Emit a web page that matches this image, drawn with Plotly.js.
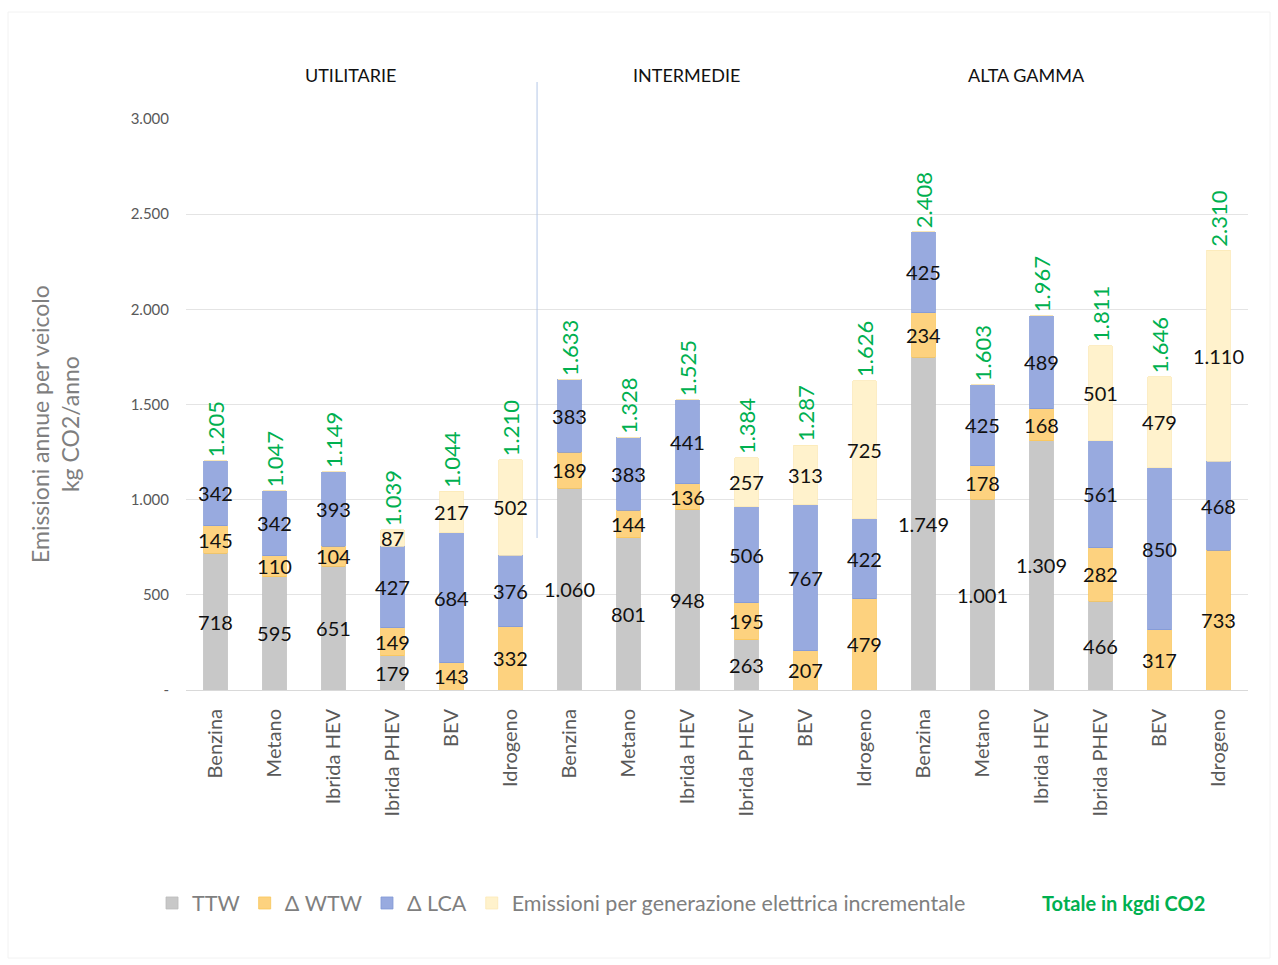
<!DOCTYPE html>
<html>
<head>
<meta charset="utf-8">
<script src="https://cdn.plot.ly/plotly-3.0.1.min.js"></script>
<style>html,body{margin:0;padding:0;background:#fff;}#chart{width:1278px;height:965px;}</style>
</head>
<body>
<div id="chart"></div>
<script>
// ---- data ----
const vehicles = ["Benzina","Metano","Ibrida HEV","Ibrida PHEV","BEV","Idrogeno",
                  "Benzina","Metano","Ibrida HEV","Ibrida PHEV","BEV","Idrogeno",
                  "Benzina","Metano","Ibrida HEV","Ibrida PHEV","BEV","Idrogeno"];
const groups = ["UTILITARIE","INTERMEDIE","ALTA GAMMA"];
const ttw  = [718,595,651,179,0,0,   1060,801,948,263,0,0,   1749,1001,1309,466,0,0];
const wtw  = [145,110,104,149,143,332, 189,144,136,195,207,479, 234,178,168,282,317,733];
const lca  = [342,342,393,427,684,376, 383,383,441,506,767,422, 425,425,489,561,850,468];
const elec = [0,0,0,87,217,502,       0,0,0,257,313,725,       0,0,0,501,479,1110];
const totals = ["1.205","1.047","1.149","1.039","1.044","1.210",
                "1.633","1.328","1.525","1.384","1.287","1.626",
                "2.408","1.603","1.967","1.811","1.646","2.310"];
const yTickVals = [0,500,1000,1500,2000,2500,3000];
const yTickText = ["-","500","1.000","1.500","2.000","2.500","3.000"];
const seriesNames = ["TTW","Δ WTW","Δ LCA","Emissioni per generazione elettrica incrementale"];

// ---- build ----
const FONT = "Lato, 'Open Sans', sans-serif";
const xs = vehicles.map((_, i) => i);
const fmt = v => v > 0 ? String(v).replace(/\B(?=(\d{3})+(?!\d))/g, ".") : "";
const colors = ["#c8c8c8", "#fdd27f", "#98aadf", "#fff2cc"];
const lineColors = ["#bdbdbd", "#f9c659", "#8298d6", "#fbe8b6"];
const seriesData = [ttw, wtw, lca, elec];

const traces = seriesData.map((vals, k) => ({
  type: "bar",
  name: seriesNames[k],
  x: xs,
  y: vals,
  text: vals.map(fmt),
  textposition: "inside",
  insidetextanchor: "middle",
  textangle: 0,
  constraintext: "none",
  textfont: {family: FONT, size: 20, color: "#111"},
  marker: {color: colors[k], line: {color: lineColors[k], width: 0.8}},
  hoverinfo: "skip"
}));

const stackTop = xs.map(i => ttw[i] + wtw[i] + lca[i] + elec[i]);

const annotations = xs.map(i => ({
  x: i, y: stackTop[i], xref: "x", yref: "y",
  text: totals[i], showarrow: false, textangle: -90,
  xanchor: "center", yanchor: "bottom", yshift: 1,
  font: {family: FONT, size: 22, color: "#00b050"}
}));

const groupX = [2.29, 7.98, 13.75];
groups.forEach((g, j) => annotations.push({
  x: groupX[j], y: 1.077, xref: "x", yref: "paper",
  text: g, showarrow: false, xanchor: "center", yanchor: "middle",
  font: {family: FONT, size: 18, color: "#111"}
}));

annotations.push({
  x: (1123 - 186) / (1248 - 186), y: (690 - 903) / (690 - 119),
  xref: "paper", yref: "paper", xanchor: "center", yanchor: "middle",
  text: "<b>Totale in kgdi CO2</b>", showarrow: false,
  font: {family: FONT, size: 20, color: "#00b050"}
});

// y-axis title (placed like the reference, slightly below plot centre)
annotations.push({
  x: (55 - 186) / (1248 - 186), y: (690 - 424) / (690 - 119),
  xref: "paper", yref: "paper", xanchor: "center", yanchor: "middle",
  textangle: -90, showarrow: false,
  text: "Emissioni annue per veicolo<br>kg CO2/anno",
  font: {family: FONT, size: 23, color: "#7f7f7f"}
});

const layout = {
  width: 1278, height: 965,
  margin: {l: 186, r: 30, t: 119, b: 275},
  paper_bgcolor: "#fff", plot_bgcolor: "#fff",
  barmode: "stack",
  bargap: 0.6,
  separators: ",.",
  font: {family: FONT, color: "#595959"},
  showlegend: true,
  legend: {
    orientation: "h",
    x: -0.032, xanchor: "left",
    y: (690 - 903) / (690 - 119), yanchor: "middle",
    font: {family: FONT, size: 21.5, color: "#7f7f7f"},
    itemwidth: 30,
    traceorder: "normal"
  },
  xaxis: {
    range: [-0.5, 17.5],
    tickvals: xs, ticktext: vehicles,
    tickangle: -90,
    tickfont: {family: FONT, size: 20, color: "#595959"},
    ticks: "", ticklabelstandoff: 14,
    showgrid: false, zeroline: false, showline: false,
    fixedrange: true
  },
  yaxis: {
    range: [0, 3000],
    tickvals: yTickVals, ticktext: yTickText,
    tickfont: {family: FONT, size: 15, color: "#595959"},
    ticks: "", ticklabelstandoff: 16,
    showgrid: true, gridcolor: "#e4e4e4", gridwidth: 1,
    zeroline: true, zerolinecolor: "#d9d9d9", zerolinewidth: 1,
    showline: false,
    automargin: false,
    fixedrange: true
  },
  annotations: annotations,
  shapes: [{
    type: "line", xref: "x", yref: "paper",
    x0: 5.45, x1: 5.45, y0: (690 - 538) / 571, y1: (690 - 82) / 571,
    line: {color: "#b4c7e7", width: 1}
  }, {
    type: "rect", xref: "paper", yref: "paper",
    x0: (8 - 186) / 1062, x1: (1270 - 186) / 1062,
    y0: (690 - 958) / 571, y1: (690 - 12) / 571,
    line: {color: "#f2f2f2", width: 1}, fillcolor: "rgba(0,0,0,0)", layer: "below"
  }]
};

Plotly.newPlot("chart", traces, layout, {displayModeBar: false, staticPlot: true});
</script>
</body>
</html>
